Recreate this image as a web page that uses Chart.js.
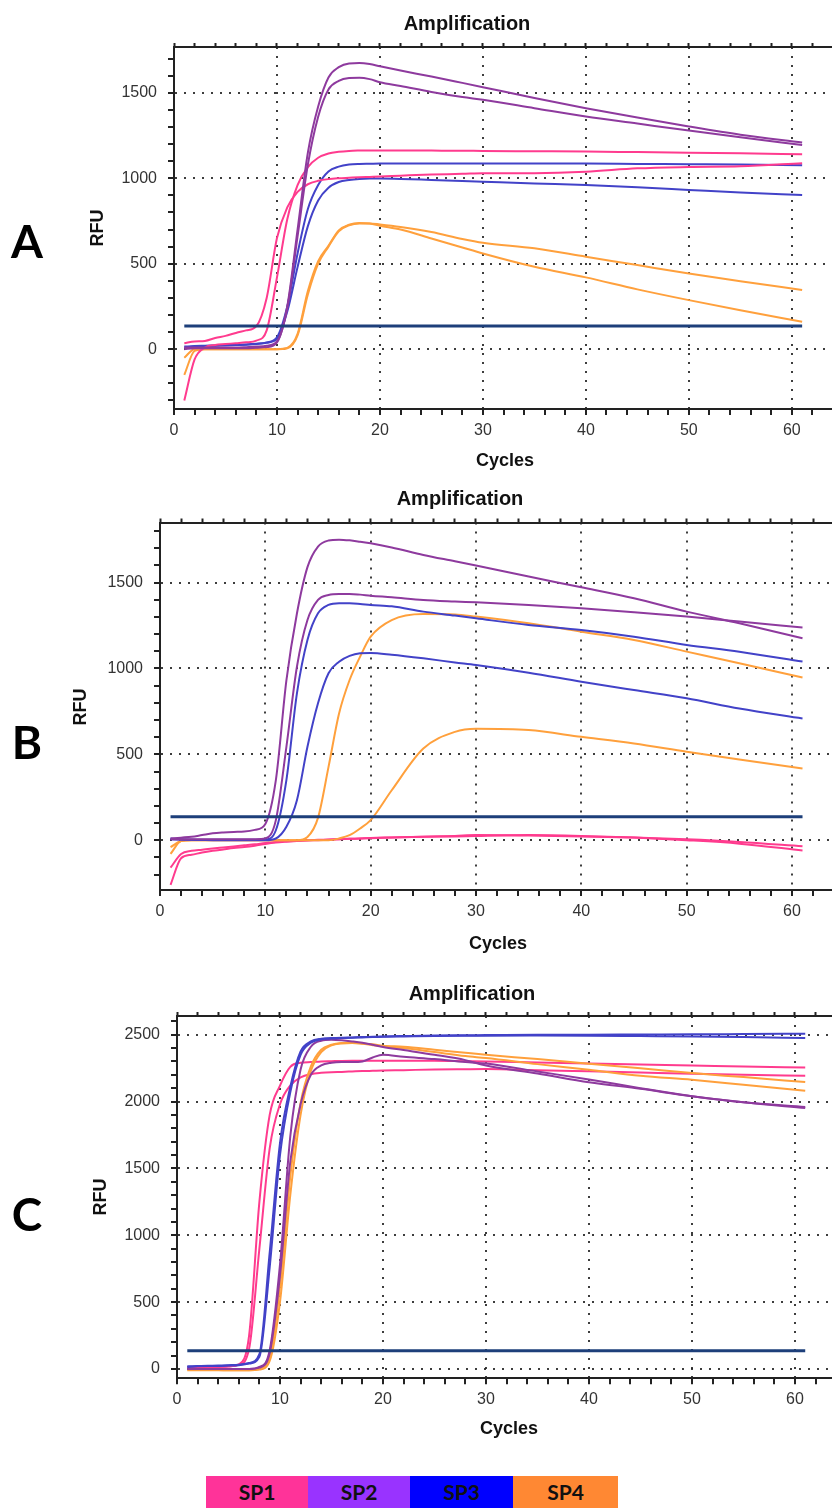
<!DOCTYPE html>
<html>
<head>
<meta charset="utf-8">
<script src="https://cdn.jsdelivr.net/npm/chart.js@4.4.0/dist/chart.umd.min.js"></script>
<style>
  body{margin:0;background:#fff;width:832px;height:1508px;position:relative;overflow:hidden;font-family:"Liberation Sans",Arial,sans-serif}
  canvas{position:absolute;left:0}
  .txt{position:absolute;white-space:nowrap;transform:translate(-50%,-50%);color:#111;font-weight:bold}
  .title{font-size:20px}
  .axt{font-size:18px}
  .rfu{transform:translate(-50%,-50%) rotate(-90deg)}
  .letter{font-family:Lato,"Liberation Sans",sans-serif;font-size:46px;color:#000}
  .legend{position:absolute;top:1476px;left:206px;height:32px;display:flex}
  .legend div{height:32px;line-height:32px;text-align:center;font-family:Lato,"Liberation Sans",sans-serif;font-weight:bold;font-size:21px;color:#111}
</style>
</head>
<body>
<canvas id="chartA" width="832" height="480" style="top:0px"></canvas>
<canvas id="chartB" width="832" height="490" style="top:480px"></canvas>
<canvas id="chartC" width="832" height="480" style="top:970px"></canvas>

<div class="txt title" style="left:467px;top:23px">Amplification</div>
<div class="txt axt" style="left:505px;top:460px">Cycles</div>
<div class="txt axt rfu" style="left:97px;top:228px">RFU</div>
<div class="txt letter" style="left:27px;top:240px">A</div>

<div class="txt title" style="left:460px;top:498px">Amplification</div>
<div class="txt axt" style="left:498px;top:943px">Cycles</div>
<div class="txt axt rfu" style="left:80px;top:707px">RFU</div>
<div class="txt letter" style="left:27px;top:741px">B</div>

<div class="txt title" style="left:472px;top:993px">Amplification</div>
<div class="txt axt" style="left:509px;top:1428px">Cycles</div>
<div class="txt axt rfu" style="left:100px;top:1197px">RFU</div>
<div class="txt letter" style="left:27px;top:1213px">C</div>

<div class="legend" id="legend"></div>

<script>
// shared x values (cycles) and tick labels
const cycles = [1,2,3,4,5,6,7,8,9,10,11,12,13,14,15,16,17,18,19,20,22,25,28,30,35,40,45,50,55,61];
const xTickLabels = [0,10,20,30,40,50,60];
const thresholdCycles = [1, 61];
const samples = ['SP1','SP2','SP3','SP4'];
const legendColors = ['#ff3399','#9933ff','#0000ff','#ff8833'];

// panel A
const aYTicks = [0,500,1000,1500];
const aThreshold = 135;
const aSP1a = [35,45,48,65,78,95,110,135,300,650,830,920,965,985,995,1000,1003,1006,1008,1010,1015,1022,1026,1030,1030,1038,1058,1066,1070,1088];
const aSP1b = [-300,-60,10,25,30,35,40,50,110,420,760,960,1065,1120,1145,1155,1160,1162,1163,1163,1163,1162,1161,1160,1158,1156,1153,1150,1146,1140];
const aSP2a = [0,5,5,5,5,5,5,8,12,40,250,700,1150,1420,1590,1650,1672,1674,1668,1655,1630,1595,1558,1533,1470,1410,1355,1303,1255,1209];
const aSP2b = [10,10,10,10,10,10,12,15,20,45,240,660,1080,1360,1520,1570,1586,1588,1580,1562,1540,1505,1475,1459,1410,1361,1320,1279,1240,1195];
const aSP3a = [15,18,20,22,24,26,28,32,40,70,250,560,820,960,1040,1068,1080,1084,1085,1086,1086,1086,1087,1087,1087,1086,1084,1082,1080,1076];
const aSP3b = [10,15,18,20,22,24,26,30,38,60,220,480,720,870,945,978,990,996,998,998,996,990,984,980,970,961,948,932,916,902];
const aSP4a = [-150,-10,0,0,0,0,0,0,0,0,5,80,320,500,600,690,725,736,736,730,715,685,645,623,590,541,492,443,398,346];
const aSP4b = [-50,0,0,0,0,0,0,0,0,0,8,90,340,515,605,695,728,738,735,722,700,648,595,560,482,420,350,287,228,160];

// panel B
const bYTicks = [0,500,1000,1500];
const bThreshold = 136;
const bSP1a = [-160,-80,-62,-55,-48,-42,-36,-30,-24,-16,-10,-6,-3,0,2,4,6,8,10,12,15,20,25,30,27,22,15,5,-10,-35];
const bSP1b = [-260,-105,-85,-72,-62,-54,-46,-40,-32,-22,-14,-9,-5,-2,0,3,5,8,10,13,16,20,22,25,30,25,15,0,-20,-60];
const bSP2a = [10,15,20,30,40,45,48,50,60,95,350,930,1320,1590,1710,1745,1750,1746,1738,1729,1705,1661,1624,1599,1535,1473,1409,1331,1263,1176];
const bSP2b = [5,5,5,5,5,5,5,5,6,10,117,544,1010,1282,1399,1428,1434,1434,1430,1424,1415,1399,1390,1385,1370,1350,1327,1302,1273,1238];
const bSP3a = [10,5,3,2,2,2,2,2,2,4,58,350,855,1166,1321,1370,1380,1380,1376,1370,1362,1331,1308,1292,1253,1224,1185,1137,1098,1040];
const bSP3b = [5,3,2,1,0,0,0,0,0,0,10,78,233,544,797,972,1039,1073,1088,1090,1080,1059,1035,1020,975,923,874,826,767,709];
const bSP4a = [-80,-5,0,0,0,0,0,0,0,0,0,0,0,19,130,427,738,933,1069,1185,1282,1317,1315,1302,1263,1214,1166,1098,1030,948];
const bSP4b = [-40,-5,0,0,0,0,0,0,0,0,0,0,0,0,0,0,10,29,68,117,291,534,631,649,641,602,563,515,470,418];

// panel C
const cYTicks = [0,500,1000,1500,2000,2500];
const cThreshold = 137;
const cSP1a = [10,15,15,15,20,35,250,1250,1900,2120,2260,2290,2295,2300,2302,2304,2305,2305,2305,2305,2305,2305,2302,2300,2292,2285,2277,2270,2262,2255];
const cSP1b = [10,12,12,15,18,30,150,900,1650,1980,2120,2180,2205,2215,2220,2222,2225,2228,2230,2232,2235,2240,2242,2243,2235,2226,2217,2208,2200,2193];
const cSP2a = [0,0,0,0,0,0,0,10,120,700,1550,1980,2200,2270,2290,2295,2295,2300,2330,2350,2335,2318,2295,2285,2225,2165,2100,2040,1995,1951];
const cSP2b = [0,0,0,0,0,0,0,15,140,780,1740,2240,2410,2455,2462,2458,2450,2440,2425,2408,2385,2350,2310,2270,2210,2145,2095,2040,1995,1959];
const cSP3a = [20,22,24,25,28,32,45,110,870,1690,2110,2375,2450,2470,2475,2478,2480,2482,2485,2487,2490,2494,2496,2497,2500,2500,2502,2503,2505,2507];
const cSP3b = [15,20,22,22,25,28,40,90,760,1600,2070,2350,2440,2465,2472,2475,2478,2480,2482,2485,2487,2490,2492,2493,2494,2493,2490,2487,2482,2475];
const cSP4a = [-5,-8,-8,-8,-10,-10,-10,0,90,616,1440,1989,2263,2388,2425,2438,2440,2435,2428,2418,2410,2388,2365,2350,2318,2283,2250,2213,2183,2146];
const cSP4b = [-10,-10,-10,-10,-10,-10,-10,-5,60,500,1300,1900,2230,2370,2420,2435,2438,2432,2422,2413,2400,2370,2340,2325,2280,2238,2193,2163,2126,2081];

// styling
const lineColors = {SP1:'#ff3b8e', SP2:'#8e3a9e', SP3:'#4242c8', SP4:'#ffa03c'};
const dotColor = 'rgba(40,40,40,0.9)';
const axisColor = '#222';
const tickFont = {family:'"Liberation Sans", Arial, sans-serif', size:16};

function stepTicks(from, to, step){
  const t = [];
  for(let v = from; v <= to + 1e-9; v += step) t.push({value:v});
  return t;
}

function makePanel(id, geo, yTicks, threshold, curves){
  const datasets = [{
    data: thresholdCycles.map(c => ({x:c, y:threshold})),
    borderColor:'#1d3f7a', borderWidth:3
  }];
  curves.forEach(([name, vals]) => datasets.push({
    data: cycles.map((c,i) => ({x:c, y:vals[i]})),
    borderColor: lineColors[name], borderWidth:2, cubicInterpolationMode:'monotone'
  }));

  new Chart(document.getElementById(id), {
    type:'line',
    data:{datasets},
    options:{
      responsive:false, animation:false, events:[],
      layout:{padding:{top: geo.top - 4, left:0, right:0, bottom:0}},
      plugins:{legend:{display:false}, tooltip:{enabled:false}},
      elements:{point:{radius:0}},
      scales:{
        x:{
          type:'linear', position:'bottom', min:0, max:geo.xMax,
          afterBuildTicks: s => { s.ticks = stepTicks(0, Math.floor(geo.xMax), 2); },
          afterFit: s => { s.height = geo.xAxisH; },
          ticks:{callback: v => xTickLabels.includes(v) ? v : '', font:tickFont, color:'#333', padding:6, maxRotation:0, autoSkip:false},
          grid:{color: c => (c.tick && c.tick.value > 0 && xTickLabels.includes(c.tick.value)) ? dotColor : 'rgba(0,0,0,0)',
                lineWidth:2, tickColor:axisColor, tickLength:6, tickWidth:2},
          border:{color:axisColor, width:2, dash:[2,7]}
        },
        xTop:{
          type:'linear', position:'top', min:0, max:geo.xMax,
          afterBuildTicks: s => { s.ticks = stepTicks(0, Math.floor(geo.xMax), 2); },
          afterFit: s => { s.height = 4; },
          ticks:{display:false},
          grid:{drawOnChartArea:false, tickColor:axisColor, tickLength:4, tickWidth:2},
          border:{color:axisColor, width:2}
        },
        y:{
          type:'linear', min:geo.yMin, max:geo.yMax,
          afterBuildTicks: s => { s.ticks = stepTicks(geo.yMinor, geo.yMax, 100); },
          afterFit: s => { s.width = geo.left; },
          ticks:{callback: v => yTicks.includes(v) ? v : '', font:tickFont, color:'#333', padding:11, autoSkip:false},
          grid:{color: c => (c.tick && yTicks.includes(c.tick.value)) ? dotColor : 'rgba(0,0,0,0)',
                lineWidth:2, tickColor:axisColor, tickLength:6, tickWidth:2},
          border:{color:axisColor, width:2, dash:[2,7]}
        }
      }
    }
  });
}

makePanel('chartA', {left:174, top:47, xAxisH:71, xMax:63.9, yMin:-350, yMax:1768, yMinor:-300}, aYTicks, aThreshold,
  [['SP2',aSP2a],['SP2',aSP2b],['SP1',aSP1a],['SP1',aSP1b],['SP3',aSP3a],['SP3',aSP3b],['SP4',aSP4a],['SP4',aSP4b]]);
makePanel('chartB', {left:160, top:42.5, xAxisH:80, xMax:63.8, yMin:-290, yMax:1850, yMinor:-200}, bYTicks, bThreshold,
  [['SP2',bSP2a],['SP2',bSP2b],['SP3',bSP3a],['SP3',bSP3b],['SP4',bSP4a],['SP4',bSP4b],['SP1',bSP1a],['SP1',bSP1b]]);
makePanel('chartC', {left:177, top:46, xAxisH:71.7, xMax:63.6, yMin:-70, yMax:2640, yMinor:0}, cYTicks, cThreshold,
  [['SP3',cSP3a],['SP3',cSP3b],['SP2',cSP2a],['SP2',cSP2b],['SP4',cSP4a],['SP4',cSP4b],['SP1',cSP1a],['SP1',cSP1b]]);

// legend strip
const legendEl = document.getElementById('legend');
const legendWidths = [102,102,103,105];
samples.forEach((s,i) => {
  const d = document.createElement('div');
  d.textContent = s;
  d.style.background = legendColors[i];
  d.style.width = legendWidths[i] + 'px';
  legendEl.appendChild(d);
});
</script>
</body>
</html>
